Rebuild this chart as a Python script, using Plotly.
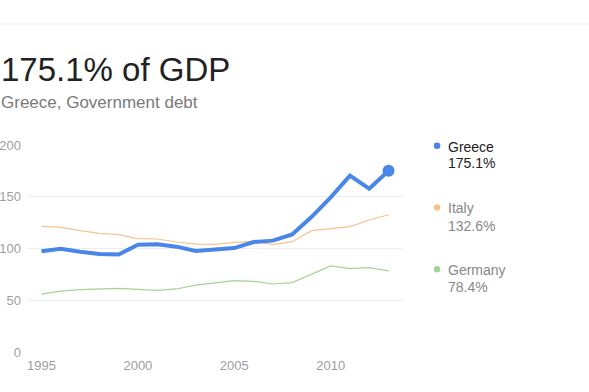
import plotly.graph_objects as go

years = list(range(1995, 2014))
greece = [97.3, 99.8, 96.8, 94.8, 94.2, 103.7, 104.0, 101.8, 97.6, 98.8, 100.4, 106.3, 107.6, 113.5, 130.4, 149.4, 170.4, 157.8, 175.1]
italy = [121.4, 120.4, 117.2, 114.7, 113.4, 109.5, 109.2, 106.3, 104.3, 104.0, 106.0, 106.9, 103.7, 106.6, 117.2, 119.5, 121.1, 127.5, 132.6]
germany = [56.0, 58.9, 60.2, 60.9, 61.5, 60.5, 59.6, 60.9, 64.7, 66.7, 68.9, 68.3, 65.7, 67.0, 75.0, 83.1, 80.5, 81.5, 78.4]

names = ["Greece", "Italy", "Germany"]
labels = ["175.1%", "132.6%", "78.4%"]
colors = ["#4a86e8", "#f5c48c", "#a6d396"]
widths = [4, 1.2, 1.2]

# body margin is removed by the post_script, so figure pixels == page pixels
W, H = 589, 392
PL, PR, PT, PB = 27.3, 402.7, 145.3, 352.0


def px(X):
    return (X - PL) / (PR - PL)


def py(Y):
    return (PB - Y) / (PB - PT)


fig = go.Figure()
for vals, c, w, n in [(germany, colors[2], widths[2], "Germany"),
                      (italy, colors[1], widths[1], "Italy"),
                      (greece, colors[0], widths[0], "Greece")]:
    fig.add_trace(go.Scatter(x=years, y=vals, mode="lines", name=n,
                             line=dict(color=c, width=w), hoverinfo="skip"))
fig.add_trace(go.Scatter(x=[years[-1]], y=[greece[-1]], mode="markers",
                         marker=dict(color=colors[0], size=12), hoverinfo="skip"))

fig.update_layout(
    width=W, height=H,
    margin=dict(l=PL, r=W - PR, t=PT, b=H - PB, pad=0),
    paper_bgcolor="white", plot_bgcolor="white",
    showlegend=False,
    font=dict(family="Arial, Liberation Sans, sans-serif"),
    xaxis=dict(range=[1994.25, 2013.75], tickvals=[1995, 2000, 2005, 2010],
               showgrid=False, zeroline=False, showline=False, automargin=False,
               tickfont=dict(size=13, color="#9e9e9e"), ticks="", ticklabelstandoff=4),
    yaxis=dict(range=[0, 200], tickvals=[0, 50, 100, 150, 200], showgrid=True,
               gridcolor="#ededed", gridwidth=1, zeroline=False, showline=False, automargin=False,
               tickfont=dict(size=13, color="#9e9e9e"), ticks="", ticklabelstandoff=5),
)

fig.add_shape(type="line", xref="paper", yref="paper", x0=px(0), x1=px(600), y0=py(24.5), y1=py(24.5),
              line=dict(color="#eeeeee", width=1))

fig.add_annotation(text="175.1% of GDP", xref="paper", yref="paper", x=px(-1), y=py(69.7),
                   xanchor="left", yanchor="middle", showarrow=False,
                   font=dict(size=33, color="#222222"))
fig.add_annotation(text="Greece, Government debt", xref="paper", yref="paper", x=px(-1), y=py(102.5),
                   xanchor="left", yanchor="middle", showarrow=False,
                   font=dict(size=17, color="#7a7a7a"))

leg_dot = [146, 207.7, 269.3]
leg_name = [147, 208.3, 270]
leg_val = [163, 225.7, 286.7]
for i, (n, l, c) in enumerate(zip(names, labels, colors)):
    tc = "#222222" if i == 0 else "#888888"
    fig.add_shape(type="circle", xref="paper", yref="paper", xsizemode="pixel", ysizemode="pixel",
                  xanchor=px(436.7), yanchor=py(leg_dot[i]), x0=-3.3, x1=3.3, y0=-3.3, y1=3.3,
                  fillcolor=c, line=dict(width=0))
    fig.add_annotation(text=n, xref="paper", yref="paper", x=px(445.5), y=py(leg_name[i]),
                       xanchor="left", yanchor="middle", showarrow=False,
                       font=dict(size=14, color=tc))
    fig.add_annotation(text=l, xref="paper", yref="paper", x=px(445.5), y=py(leg_val[i]),
                       xanchor="left", yanchor="middle", showarrow=False,
                       font=dict(size=14, color=tc))

fig.write_html("out.html", config={"displayModeBar": False},
               post_script="document.body.style.margin='0';document.body.style.overflow='hidden';")
